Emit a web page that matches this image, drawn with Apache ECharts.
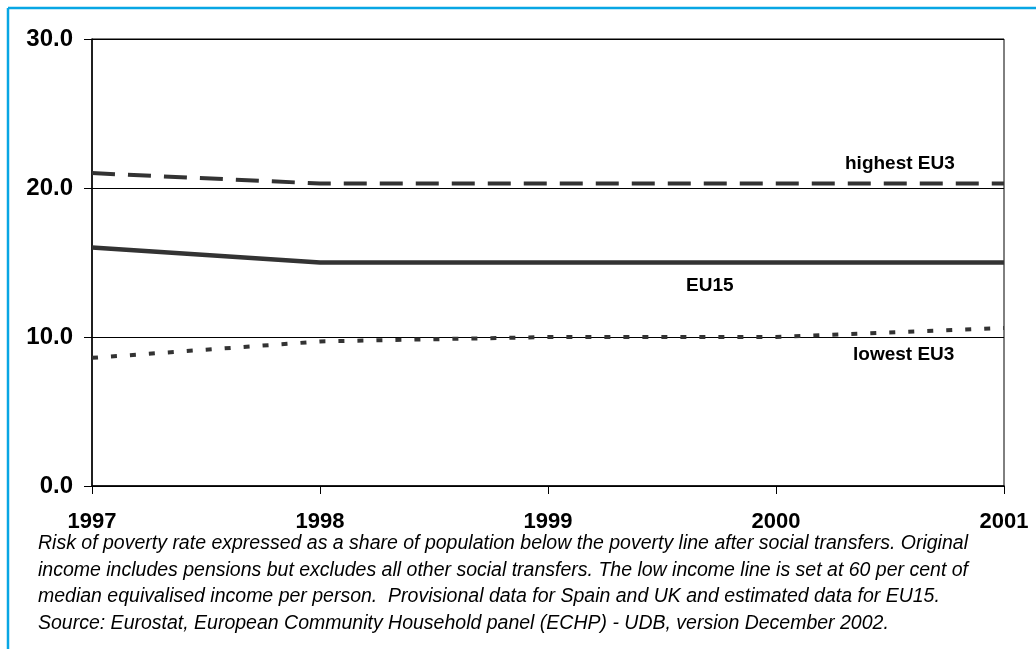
<!DOCTYPE html>
<html>
<head>
<meta charset="utf-8">
<script src="https://cdn.jsdelivr.net/npm/echarts@6/dist/echarts.min.js"></script>
<style>
  html, body { margin: 0; padding: 0; background: #fff; }
  #chart { width: 1036px; height: 649px; }
</style>
</head>
<body>
<div id="chart"></div>
<script>
// years on the x axis
const years = ["1997", "1998", "1999", "2000", "2001"];
// at-risk-of-poverty rates (%)
const highestEU3 = [21.0, 20.3, 20.3, 20.3, 20.3];
const eu15 = [16.0, 15.0, 15.0, 15.0, 15.0];
const lowestEU3 = [8.6, 9.7, 10.0, 10.0, 10.6];

const captionLines = [
  "Risk of poverty rate expressed as a share of population below the poverty line after social transfers. Original",
  "income includes pensions but excludes all other social transfers. The low income line is set at 60 per cent of",
  "median equivalised income per person.  Provisional data for Spain and UK and estimated data for EU15.",
  "Source: Eurostat, European Community Household panel (ECHP) - UDB, version December 2002."
];

const lineColor = "#333333";
const fontFam = "'Liberation Sans', Arial, sans-serif";

var chart = echarts.init(document.getElementById("chart"), null, { renderer: "canvas" });

function seriesLabel(text, x, y) {
  return {
    type: "text",
    left: x,
    top: y,
    style: { text: text, font: "bold 19px " + fontFam, fill: "#000" }
  };
}

var graphics = [
  // blue frame (top and left edges)
  { type: "line", shape: { x1: 8, y1: 8, x2: 1036, y2: 8 }, style: { stroke: "#08a6e4", lineWidth: 2.5 } },
  { type: "line", shape: { x1: 8, y1: 8, x2: 8, y2: 649 }, style: { stroke: "#08a6e4", lineWidth: 2.5 } },
  seriesLabel("highest EU3", 845, 154),
  seriesLabel("EU15", 686, 276),
  seriesLabel("lowest EU3", 853, 345)
];
captionLines.forEach(function (t, i) {
  graphics.push({
    type: "text",
    left: 38,
    top: 534 + i * 26.5,
    style: { text: t, font: "italic 19.5px " + fontFam, fill: "#000" }
  });
});

var option = {
  animation: false,
  grid: {
    left: 92, right: 32, top: 39, bottom: 163,
    show: true, borderColor: "#000", borderWidth: 1
  },
  xAxis: {
    type: "category",
    data: years,
    boundaryGap: false,
    axisLine: { lineStyle: { color: "#000", width: 1.5 } },
    axisTick: { show: true, length: 8, alignWithLabel: true, lineStyle: { color: "#000" } },
    axisLabel: { color: "#000", fontSize: 22, fontWeight: "bold", fontFamily: fontFam, margin: 25 },
    splitLine: { show: false }
  },
  yAxis: {
    type: "value",
    min: 0, max: 30, interval: 10,
    axisLine: { show: true, lineStyle: { color: "#000", width: 1.5 } },
    axisTick: { show: true, length: 8, lineStyle: { color: "#000" } },
    axisLabel: {
      color: "#000", fontSize: 24, fontWeight: "bold", fontFamily: fontFam, margin: 19,
      formatter: function (v) { return v.toFixed(1); }
    },
    splitLine: { show: true, lineStyle: { color: "#000", width: 1 } }
  },
  graphic: graphics,
  series: [
    {
      name: "highest EU3", type: "line", data: highestEU3, symbol: "none",
      lineStyle: { color: lineColor, width: 4, type: [23, 13], cap: "butt" }
    },
    {
      name: "EU15", type: "line", data: eu15, symbol: "none",
      lineStyle: { color: lineColor, width: 4.5, type: "solid" }
    },
    {
      name: "lowest EU3", type: "line", data: lowestEU3, symbol: "none",
      lineStyle: { color: lineColor, width: 4, type: [6, 13], cap: "butt" }
    }
  ]
};

chart.setOption(option);
</script>
</body>
</html>
